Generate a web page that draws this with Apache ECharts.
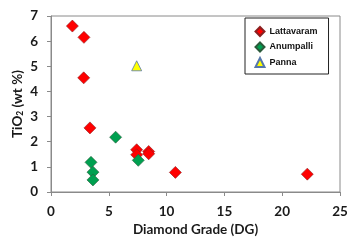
<!DOCTYPE html>
<html><head><meta charset="utf-8">
<script src="https://cdn.jsdelivr.net/npm/echarts@6/dist/echarts.min.js"></script>
<style>html,body{margin:0;padding:0;background:#fff}#c{width:347px;height:240px}</style>
</head><body><div id="c"></div>
<script>
const lattavaramX = [1.85, 2.85, 2.83, 3.37, 7.41, 7.41, 8.45, 8.45, 10.76, 22.17];
const lattavaramY = [6.60, 6.15, 4.54, 2.55, 1.68, 1.48, 1.61, 1.52, 0.78, 0.71];
const anumpalliX = [5.59, 3.46, 3.63, 3.63, 7.55];
const anumpalliY = [2.18, 1.18, 0.79, 0.48, 1.26];
const pannaX = [7.41];
const pannaY = [5.02];
const xTicks = [0, 5, 10, 15, 20, 25];
const yTicks = [0, 1, 2, 3, 4, 5, 6, 7];

const zip = (a, b) => a.map((v, i) => [v, b[i]]);
const chart = echarts.init(document.getElementById('c'), null, {renderer: 'canvas'});
const axisFont = {fontFamily: 'Lato', fontWeight: 'bold', fontSize: 13.5, color: '#1a1a1a'};
chart.setOption({
  animation: false,
  grid: {left: 51, right: 7, top: 16, bottom: 48, show: true, borderColor: '#8a8a8a', borderWidth: 1,
         containLabel: false, outerBoundsMode: 'none'},
  legend: {
    orient: 'vertical', left: 245, top: 18, width: 88,
    borderColor: '#222', borderWidth: 1, padding: [8, 11, 6, 9.5],
    itemWidth: 9, itemHeight: 9, itemGap: 4.5,
    textStyle: {fontFamily: 'Liberation Sans', fontWeight: 'bold', fontSize: 9, color: '#111'},
    data: [
      {name: 'Lattavaram', icon: 'diamond'},
      {name: 'Anumpalli', icon: 'diamond'},
      {name: 'Panna', icon: 'triangle'}
    ]
  },
  xAxis: {
    type: 'value', min: xTicks[0], max: xTicks[xTicks.length - 1], interval: 5,
    name: 'Diamond Grade (DG)', nameLocation: 'middle', nameGap: 31, nameMoveOverlap: false,
    nameTextStyle: axisFont,
    axisLine: {show: true, lineStyle: {color: '#8a8a8a'}},
    axisTick: {show: true, length: 4, lineStyle: {color: '#8a8a8a'}},
    axisLabel: Object.assign({margin: 13}, axisFont),
    splitLine: {show: false}
  },
  yAxis: {
    type: 'value', min: yTicks[0], max: yTicks[yTicks.length - 1], interval: 1,
    name: '{a|TiO}{s|2}{a| (wt %)}', nameLocation: 'middle', nameGap: 26, nameRotate: 90, nameMoveOverlap: false,
    nameTextStyle: {rich: {
      a: {fontFamily: 'Lato', fontWeight: 'bold', fontSize: 13.5, color: '#1a1a1a'},
      s: {fontFamily: 'Lato', fontWeight: 'bold', fontSize: 8.5, color: '#1a1a1a', verticalAlign: 'bottom', padding: [6, 0, 0, 0]}
    }},
    axisLine: {show: true, lineStyle: {color: '#8a8a8a'}},
    axisTick: {show: true, length: 4, lineStyle: {color: '#8a8a8a'}},
    axisLabel: Object.assign({margin: 13}, axisFont),
    splitLine: {show: false}
  },
  series: [
    {name: 'Lattavaram', type: 'scatter', symbol: 'diamond', symbolSize: 12,
     itemStyle: {color: '#ff0000', borderColor: '#8a2020', borderWidth: 0.6, opacity: 1},
     data: zip(lattavaramX, lattavaramY)},
    {name: 'Anumpalli', type: 'scatter', symbol: 'diamond', symbolSize: 12,
     itemStyle: {color: '#00a050', borderColor: '#2a5a3a', borderWidth: 0.6, opacity: 1},
     data: zip(anumpalliX, anumpalliY)},
    {name: 'Panna', type: 'scatter', symbol: 'triangle', symbolSize: 10,
     itemStyle: {color: '#ffff00', borderColor: '#5577aa', borderWidth: 0.8, opacity: 1},
     data: zip(pannaX, pannaY)}
  ]
});
</script></body></html>
